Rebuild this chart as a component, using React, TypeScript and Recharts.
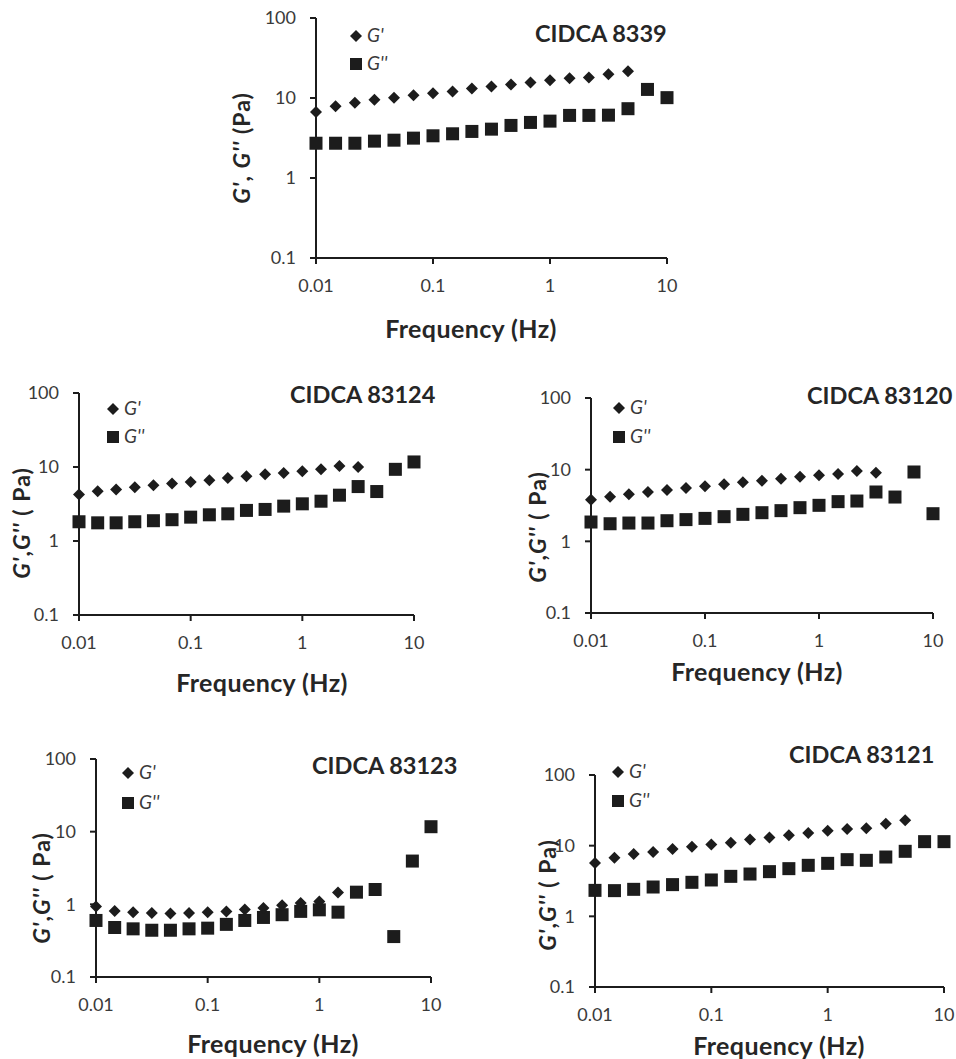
import React from 'react';
import { ScatterChart, Scatter, XAxis, YAxis } from 'recharts';

const FREQ = [0.01, 0.0147, 0.0215, 0.0316, 0.0464, 0.0681, 0.1, 0.147, 0.215, 0.316, 0.464, 0.681, 1, 1.47, 2.15, 3.16, 4.64, 6.81, 10];
const X_TICKS = [0.01, 0.1, 1, 10];
const Y_TICKS = [0.1, 1, 10, 100];

const gp8339 = [6.67, 7.86, 8.74, 9.53, 10.1, 10.8, 11.5, 12.1, 13.1, 13.9, 14.7, 15.6, 16.7, 17.7, 18.0, 19.8, 21.6];
const gpp8339 = [2.72, 2.72, 2.72, 2.89, 2.97, 3.15, 3.37, 3.57, 3.82, 4.08, 4.54, 4.95, 5.14, 6.06, 6.06, 6.1, 7.35, 12.8, 10.1];

const gp83124 = [4.24, 4.71, 4.96, 5.33, 5.67, 5.97, 6.28, 6.62, 7.11, 7.49, 7.97, 8.3, 8.74, 9.3, 10.3, 10.0];
const gpp83124 = [1.82, 1.76, 1.76, 1.82, 1.88, 1.94, 2.1, 2.26, 2.33, 2.59, 2.67, 2.96, 3.18, 3.45, 4.16, 5.44, 4.66, 9.3, 11.7];

const gp83120 = [3.81, 4.2, 4.53, 4.88, 5.2, 5.55, 5.86, 6.24, 6.66, 7.02, 7.49, 7.99, 8.34, 8.7, 9.58, 9.08];
const gpp83120 = [1.86, 1.76, 1.8, 1.8, 1.94, 2.01, 2.09, 2.21, 2.38, 2.51, 2.68, 2.95, 3.18, 3.58, 3.65, 4.88, 4.15, 9.28, 2.43];

const gp83123 = [0.93, 0.81, 0.78, 0.76, 0.75, 0.76, 0.78, 0.8, 0.85, 0.89, 0.97, 1.04, 1.09, 1.46];
const gpp83123 = [0.6, 0.48, 0.46, 0.44, 0.44, 0.46, 0.47, 0.53, 0.6, 0.66, 0.72, 0.8, 0.84, 0.78, 1.47, 1.6, 0.36, 3.94, 11.7];

const gp83121 = [5.69, 6.77, 7.62, 8.13, 8.97, 9.68, 10.4, 11.0, 12.2, 13.0, 14.0, 15.1, 16.3, 17.2, 17.6, 20.5, 22.8];
const gpp83121 = [2.33, 2.31, 2.41, 2.6, 2.81, 3.03, 3.27, 3.68, 3.97, 4.29, 4.73, 5.27, 5.62, 6.34, 6.2, 6.91, 8.32, 11.4, 11.4];

const TITLES = ['CIDCA 8339', 'CIDCA 83124', 'CIDCA 83120', 'CIDCA 83123', 'CIDCA 83121'];

const toPts = (vals: number[]) => vals.map((v, i) => ({ x: FREQ[i], y: v }));

const INK = '#1c1c1c';
const TXT = '#262626';
const TICK = '#3a3a3a';
const FONT = 'Lato, "Open Sans", sans-serif';

const Diamond = (p: any) => {
  const { cx, cy } = p;
  const r = 6;
  return <polygon points={`${cx},${cy - r} ${cx + r},${cy} ${cx},${cy + r} ${cx - r},${cy}`} fill={INK} />;
};
const Square = (p: any) => {
  const { cx, cy } = p;
  const r = 6.5;
  return <rect x={cx - r} y={cy - r} width={2 * r} height={2 * r} fill={INK} />;
};

type Spec = {
  left: number; top: number; w: number; h: number;
  gp: number[]; gpp: number[]; title: string;
  titleX: number; titleY: number;
  freqX: number; freqY: number;
  ylabX: number; ylabY: number; ylab: 'a' | 'b';
  legX: number; legY1: number; legY2: number;
};

const SPECS: Spec[] = [
  { left: 316, top: 18, w: 351, h: 240, gp: gp8339, gpp: gpp8339, title: TITLES[0], titleX: 535, titleY: 42, freqX: 471, freqY: 338, ylabX: 242, ylabY: 148, ylab: 'a', legX: 356, legY1: 36, legY2: 64 },
  { left: 79, top: 393, w: 335, h: 222, gp: gp83124, gpp: gpp83124, title: TITLES[1], titleX: 290, titleY: 403, freqX: 262, freqY: 692, ylabX: 22, ylabY: 523, ylab: 'b', legX: 113, legY1: 409, legY2: 437 },
  { left: 591, top: 398, w: 342, h: 215, gp: gp83120, gpp: gpp83120, title: TITLES[2], titleX: 807, titleY: 404, freqX: 757, freqY: 681, ylabX: 538, ylabY: 527, ylab: 'b', legX: 619, legY1: 408, legY2: 437 },
  { left: 96, top: 759, w: 335, h: 218, gp: gp83123, gpp: gpp83123, title: TITLES[3], titleX: 312, titleY: 774, freqX: 273, freqY: 1053, ylabX: 42, ylabY: 888, ylab: 'b', legX: 128, legY1: 773, legY2: 803 },
  { left: 595, top: 775, w: 349, h: 212, gp: gp83121, gpp: gpp83121, title: TITLES[4], titleX: 789, titleY: 763, freqX: 779, freqY: 1055, ylabX: 548, ylabY: 895, ylab: 'b', legX: 618, legY1: 772, legY2: 801 },
];

const YW = 60;
const MT = 12;
const MR = 14;
const XH = 50;

const Panel = ({ s }: { s: Spec }) => (
  <div style={{ position: 'absolute', left: s.left - YW, top: s.top - MT }}>
    <ScatterChart width={YW + s.w + MR} height={MT + s.h + XH} margin={{ top: MT, right: MR, bottom: 0, left: 0 }}>
      <XAxis
        type="number"
        dataKey="x"
        scale="log"
        domain={[0.01, 10]}
        ticks={X_TICKS}
        height={XH}
        axisLine={{ stroke: INK, strokeWidth: 2 }}
        tickLine={{ stroke: INK, strokeWidth: 2 }}
        tickSize={6}
        tickMargin={15}
        tick={{ fill: TICK, fontSize: 18, fontFamily: FONT }}
        tickFormatter={(v: number) => String(v)}
      />
      <YAxis
        type="number"
        dataKey="y"
        scale="log"
        domain={[0.1, 100]}
        ticks={Y_TICKS}
        width={YW}
        axisLine={{ stroke: INK, strokeWidth: 2 }}
        tickLine={{ stroke: INK, strokeWidth: 2 }}
        tickSize={6}
        tickMargin={14}
        tick={{ fill: TICK, fontSize: 18, fontFamily: FONT }}
        tickFormatter={(v: number) => String(v)}
      />
      <Scatter data={toPts(s.gpp)} shape={Square} isAnimationActive={false} />
      <Scatter data={toPts(s.gp)} shape={Diamond} isAnimationActive={false} />
    </ScatterChart>
  </div>
);

const Texts = () => (
  <svg width={956} height={1059} style={{ position: 'absolute', left: 0, top: 0, pointerEvents: 'none' }}>
    {SPECS.map((s, i) => (
      <g key={i} fontFamily={FONT}>
        <text x={s.titleX} y={s.titleY} fontSize={23.5} fontWeight={700} fill={TXT}>{s.title}</text>
        <text x={s.freqX} y={s.freqY} fontSize={25} fontWeight={700} letterSpacing={0.4} fill={TXT} textAnchor="middle">Frequency (Hz)</text>
        <text
          x={s.ylabX}
          y={s.ylabY}
          dy="0.35em"
          fontSize={23}
          fontWeight={700}
          letterSpacing={1}
          fill={TXT}
          textAnchor="middle"
          transform={`rotate(-90 ${s.ylabX} ${s.ylabY})`}
        >
          {s.ylab === 'a' ? (
            <>
              <tspan fontStyle="italic">G'</tspan>, <tspan fontStyle="italic">G''</tspan> (Pa)
            </>
          ) : (
            <>
              <tspan fontStyle="italic">G'</tspan>,<tspan fontStyle="italic">G''</tspan> ( Pa)
            </>
          )}
        </text>
        <polygon points={`${s.legX},${s.legY1 - 6} ${s.legX + 6},${s.legY1} ${s.legX},${s.legY1 + 6} ${s.legX - 6},${s.legY1}`} fill={INK} />
        <text x={s.legX + 11} y={s.legY1 + 6} fontSize={19} fontStyle="italic" fill={TICK}>G'</text>
        <rect x={s.legX - 6} y={s.legY2 - 6} width={12} height={12} fill={INK} />
        <text x={s.legX + 11} y={s.legY2 + 6} fontSize={19} fontStyle="italic" fill={TICK}>G''</text>
      </g>
    ))}
  </svg>
);

export default function App() {
  return (
    <div style={{ position: 'absolute', left: 0, top: 0, width: 956, height: 1059, background: '#fff' }}>
      {SPECS.map((s, i) => (
        <Panel key={i} s={s} />
      ))}
      <Texts />
    </div>
  );
}
